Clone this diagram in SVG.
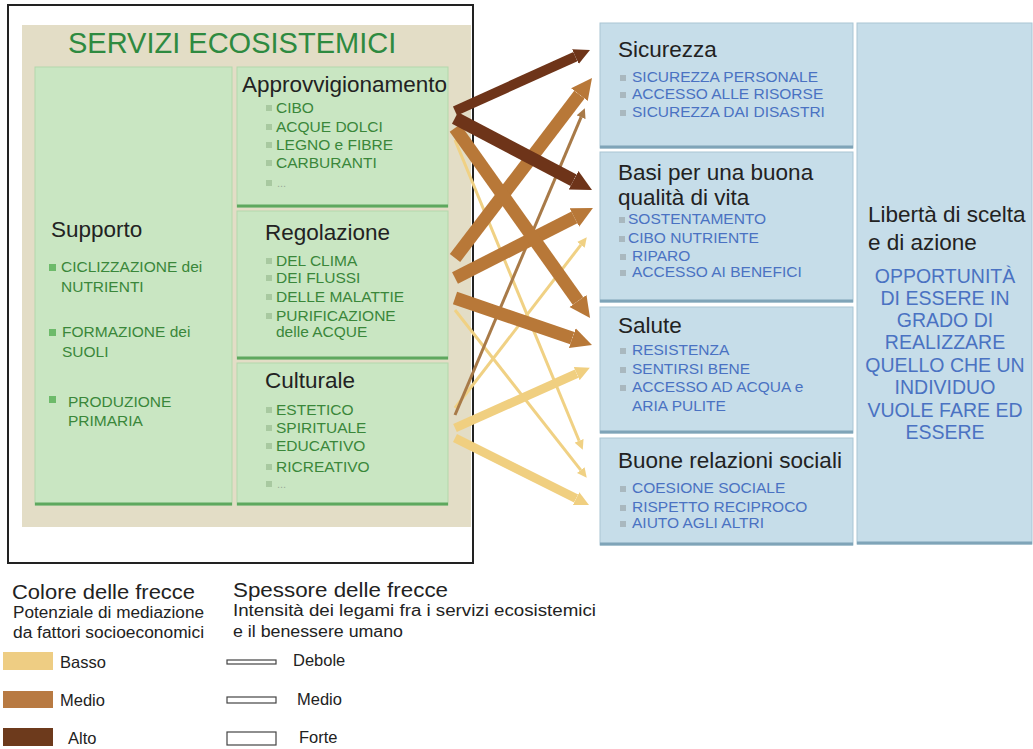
<svg xmlns="http://www.w3.org/2000/svg" width="1033" height="749" viewBox="0 0 1033 749">
<style>
text{font-family:"Liberation Sans",Arial,sans-serif}
.gbox{fill:#c9e6c2;stroke:#b3d8ab;stroke-width:1}
.gbot{stroke:#5ea85e;stroke-width:3}
.bbox{fill:#c6dde9;stroke:#a9c5d4;stroke-width:1}
.bbot{stroke:#7fa4b8;stroke-width:3}
.ttl{font-size:22.5px;fill:#222}
.gi{font-size:15.5px;fill:#3a873a}
.bi{font-size:15.5px;fill:#4a72c2}
.lb{font-size:19.5px;fill:#4a72c2}
.gb{fill:#a8c9a0}
.sb{fill:#6dba6a}
.bb{fill:#a9b8bf}
.lg{font-size:20px;fill:#222}
.ls{font-size:16px;fill:#222}
.lab{font-size:16.5px;fill:#222}
</style>
<defs>
<marker id="hd" viewBox="0 0 10 10" refX="0" refY="5" markerWidth="1.6" markerHeight="2.1" orient="auto" markerUnits="strokeWidth"><path d="M0,0L10,5L0,10z" fill="#6e3419"/></marker>
<marker id="hm" viewBox="0 0 10 10" refX="0" refY="5" markerWidth="1.6" markerHeight="2.1" orient="auto" markerUnits="strokeWidth"><path d="M0,0L10,5L0,10z" fill="#b87838"/></marker>
<marker id="hy" viewBox="0 0 10 10" refX="0" refY="5" markerWidth="1.6" markerHeight="2.1" orient="auto" markerUnits="strokeWidth"><path d="M0,0L10,5L0,10z" fill="#f0cf80"/></marker>
<marker id="tm" viewBox="0 0 10 10" refX="0" refY="5" markerWidth="3.3" markerHeight="3.2" orient="auto" markerUnits="strokeWidth"><path d="M0,0L10,5L0,10z" fill="#a87a48"/></marker>
<marker id="ty" viewBox="0 0 10 10" refX="0" refY="5" markerWidth="3.3" markerHeight="3.2" orient="auto" markerUnits="strokeWidth"><path d="M0,0L10,5L0,10z" fill="#f0d184"/></marker>
</defs>
<rect width="1033" height="749" fill="#fff"/>
<g id="frame">
<rect x="8" y="5" width="465" height="558" fill="#fff" stroke="#222" stroke-width="2"/>
<rect x="22" y="25" width="449" height="502" fill="#e3ddc6"/>
<text x="68" y="53" font-size="29px" fill="#2e8a40">SERVIZI ECOSISTEMICI</text>
</g>
<g id="supporto">
<rect class="gbox" x="35" y="67" width="197" height="438"/>
<line class="gbot" x1="35" y1="504" x2="232" y2="504"/>
<text class="ttl" x="51" y="237">Supporto</text>
<rect class="sb" x="49" y="264" width="7" height="7"/>
<text class="gi" x="61" y="272">CICLIZZAZIONE dei</text>
<text class="gi" x="61" y="292">NUTRIENTI</text>
<rect class="sb" x="49" y="329" width="7" height="7"/>
<text class="gi" x="62" y="337">FORMAZIONE dei</text>
<text class="gi" x="62" y="357">SUOLI</text>
<rect class="sb" x="49" y="396" width="7" height="7"/>
<text class="gi" x="68" y="407">PRODUZIONE</text>
<text class="gi" x="68" y="426">PRIMARIA</text>
</g>
<g id="approvvigionamento">
<rect class="gbox" x="237" y="67" width="211" height="140"/>
<line class="gbot" x1="237" y1="206" x2="448" y2="206"/>
<text class="ttl" x="242" y="92">Approvvigionamento</text>
<rect class="gb" x="266" y="105" width="6" height="6"/><text class="gi" x="276" y="113">CIBO</text>
<rect class="gb" x="266" y="124" width="6" height="6"/><text class="gi" x="276" y="132">ACQUE DOLCI</text>
<rect class="gb" x="266" y="142" width="6" height="6"/><text class="gi" x="276" y="150">LEGNO e FIBRE</text>
<rect class="gb" x="266" y="160" width="6" height="6"/><text class="gi" x="276" y="168">CARBURANTI</text>
<rect class="gb" x="266" y="180" width="6" height="6"/><text x="277" y="187" font-size="11px" fill="#9aab98">...</text>
</g>
<g id="regolazione">
<rect class="gbox" x="237" y="211" width="211" height="148"/>
<line class="gbot" x1="237" y1="358" x2="448" y2="358"/>
<text class="ttl" x="265" y="240">Regolazione</text>
<rect class="gb" x="266" y="258" width="6" height="6"/><text class="gi" x="276" y="266">DEL CLIMA</text>
<rect class="gb" x="266" y="275" width="6" height="6"/><text class="gi" x="276" y="283">DEI FLUSSI</text>
<rect class="gb" x="266" y="294" width="6" height="6"/><text class="gi" x="276" y="302">DELLE MALATTIE</text>
<rect class="gb" x="266" y="313" width="6" height="6"/><text class="gi" x="276" y="321">PURIFICAZIONE</text>
<text class="gi" x="276" y="337">delle ACQUE</text>
</g>
<g id="culturale">
<rect class="gbox" x="237" y="363" width="211" height="142"/>
<line class="gbot" x1="237" y1="504" x2="448" y2="504"/>
<text class="ttl" x="265" y="388">Culturale</text>
<rect class="gb" x="266" y="407" width="6" height="6"/><text class="gi" x="276" y="415">ESTETICO</text>
<rect class="gb" x="266" y="425" width="6" height="6"/><text class="gi" x="276" y="433">SPIRITUALE</text>
<rect class="gb" x="266" y="443" width="6" height="6"/><text class="gi" x="276" y="451">EDUCATIVO</text>
<rect class="gb" x="266" y="464" width="6" height="6"/><text class="gi" x="276" y="472">RICREATIVO</text>
<rect class="gb" x="266" y="481" width="6" height="6"/><text x="277" y="488" font-size="11px" fill="#9aab98">...</text>
</g>
<g id="sicurezza">
<rect class="bbox" x="600" y="23" width="253" height="125"/>
<line class="bbot" x1="600" y1="147" x2="853" y2="147"/>
<text class="ttl" x="618" y="57">Sicurezza</text>
<rect class="bb" x="620" y="75" width="6" height="6"/><text class="bi" x="632" y="82">SICUREZZA PERSONALE</text>
<rect class="bb" x="620" y="92" width="6" height="6"/><text class="bi" x="632" y="99">ACCESSO ALLE RISORSE</text>
<rect class="bb" x="620" y="110" width="6" height="6"/><text class="bi" x="632" y="117">SICUREZZA DAI DISASTRI</text>
</g>
<g id="basi">
<rect class="bbox" x="600" y="152" width="253" height="150"/>
<line class="bbot" x1="600" y1="301" x2="853" y2="301"/>
<text class="ttl" x="618" y="180">Basi per una buona</text>
<text class="ttl" x="618" y="205">qualità di vita</text>
<rect class="bb" x="619" y="217" width="6" height="6"/><text class="bi" x="628" y="224">SOSTENTAMENTO</text>
<rect class="bb" x="619" y="236" width="6" height="6"/><text class="bi" x="628" y="243">CIBO NUTRIENTE</text>
<rect class="bb" x="620" y="254" width="6" height="6"/><text class="bi" x="632" y="261">RIPARO</text>
<rect class="bb" x="620" y="270" width="6" height="6"/><text class="bi" x="632" y="277">ACCESSO AI BENEFICI</text>
</g>
<g id="salute">
<rect class="bbox" x="600" y="307" width="253" height="126"/>
<line class="bbot" x1="600" y1="432" x2="853" y2="432"/>
<text class="ttl" x="618" y="333">Salute</text>
<rect class="bb" x="620" y="348" width="6" height="6"/><text class="bi" x="632" y="355">RESISTENZA</text>
<rect class="bb" x="620" y="367" width="6" height="6"/><text class="bi" x="632" y="374">SENTIRSI BENE</text>
<rect class="bb" x="620" y="385" width="6" height="6"/><text class="bi" x="632" y="392">ACCESSO AD ACQUA e</text>
<text class="bi" x="632" y="411">ARIA PULITE</text>
</g>
<g id="relazioni">
<rect class="bbox" x="600" y="438" width="253" height="107"/>
<line class="bbot" x1="600" y1="544" x2="853" y2="544"/>
<text class="ttl" x="618" y="468">Buone relazioni sociali</text>
<rect class="bb" x="620" y="486" width="6" height="6"/><text class="bi" x="632" y="493">COESIONE SOCIALE</text>
<rect class="bb" x="620" y="505" width="6" height="6"/><text class="bi" x="632" y="512">RISPETTO RECIPROCO</text>
<rect class="bb" x="620" y="521" width="6" height="6"/><text class="bi" x="632" y="528">AIUTO AGLI ALTRI</text>
</g>
<g id="liberta">
<rect class="bbox" x="857" y="23" width="175" height="521"/>
<line class="bbot" x1="857" y1="543" x2="1032" y2="543"/>
<text class="ttl" x="868" y="222" font-size="23px">Libertà di scelta</text>
<text class="ttl" x="868" y="250" font-size="23px">e di azione</text>
<g text-anchor="middle">
<text class="lb" x="945" y="283">OPPORTUNITÀ</text>
<text class="lb" x="945" y="305">DI ESSERE IN</text>
<text class="lb" x="945" y="327">GRADO DI</text>
<text class="lb" x="945" y="349">REALIZZARE</text>
<text class="lb" x="945" y="372">QUELLO CHE UN</text>
<text class="lb" x="945" y="394">INDIVIDUO</text>
<text class="lb" x="945" y="417">VUOLE FARE ED</text>
<text class="lb" x="945" y="439">ESSERE</text>
</g>
</g>
<g id="connectors" fill="none">
<line x1="455" y1="140" x2="579.1" y2="440.8" stroke="#f0d184" stroke-width="3" marker-end="url(#ty)"/>
<line x1="455" y1="310" x2="580.8" y2="470.1" stroke="#f0d184" stroke-width="3" marker-end="url(#ty)"/>
<line x1="455" y1="408" x2="580.9" y2="244.9" stroke="#f0d184" stroke-width="3" marker-end="url(#ty)"/>
<line x1="455" y1="415" x2="581.1" y2="117.2" stroke="#a87a48" stroke-width="3" marker-end="url(#tm)"/>
<line x1="455" y1="428" x2="576.7" y2="373.6" stroke="#f0cf80" stroke-width="9" marker-end="url(#hy)"/>
<line x1="455" y1="438" x2="576.1" y2="498.6" stroke="#f0cf80" stroke-width="9" marker-end="url(#hy)"/>
<line x1="455" y1="298" x2="572.3" y2="338.2" stroke="#b87838" stroke-width="13" marker-end="url(#hm)"/>
<line x1="455" y1="278" x2="574.4" y2="217.4" stroke="#b87838" stroke-width="13" marker-end="url(#hm)"/>
<line x1="455" y1="258" x2="579.4" y2="94.6" stroke="#b87838" stroke-width="13" marker-end="url(#hm)"/>
<line x1="455" y1="128" x2="578" y2="301" stroke="#b87838" stroke-width="13" marker-end="url(#hm)"/>
<line x1="455" y1="118" x2="573.6" y2="180.3" stroke="#6e3419" stroke-width="13" marker-end="url(#hd)"/>
<line x1="455" y1="111" x2="575.4" y2="56.6" stroke="#6e3419" stroke-width="10" marker-end="url(#hd)"/>
</g>
<g id="legend">
<text class="lg" x="12" y="599" textLength="183" lengthAdjust="spacingAndGlyphs">Colore delle frecce</text>
<text class="ls" x="13" y="618" textLength="191" lengthAdjust="spacingAndGlyphs">Potenziale di mediazione</text>
<text class="ls" x="13" y="638" textLength="191" lengthAdjust="spacingAndGlyphs">da fattori socioeconomici</text>
<rect x="3" y="652" width="50" height="18" fill="#eecd83"/>
<text class="lab" x="60" y="668">Basso</text>
<rect x="3" y="691" width="50" height="17" fill="#b87a42"/>
<text class="lab" x="60" y="706">Medio</text>
<rect x="3" y="728" width="50" height="18" fill="#6d3a1c"/>
<text class="lab" x="68" y="744">Alto</text>
<text class="lg" x="233" y="597" textLength="215" lengthAdjust="spacingAndGlyphs">Spessore delle frecce</text>
<text class="ls" x="233" y="616" textLength="363" lengthAdjust="spacingAndGlyphs">Intensità dei legami fra i servizi ecosistemici</text>
<text class="ls" x="233" y="637" textLength="170" lengthAdjust="spacingAndGlyphs">e il benessere umano</text>
<rect x="227" y="660" width="49" height="4" fill="#fff" stroke="#444" stroke-width="1.2"/>
<text class="lab" x="293" y="666">Debole</text>
<rect x="227" y="697" width="49" height="6" fill="#fff" stroke="#444" stroke-width="1.2"/>
<text class="lab" x="297" y="705">Medio</text>
<rect x="227" y="732" width="49" height="13" fill="#fff" stroke="#444" stroke-width="1.2"/>
<text class="lab" x="299" y="743">Forte</text>
</g>
</svg>
